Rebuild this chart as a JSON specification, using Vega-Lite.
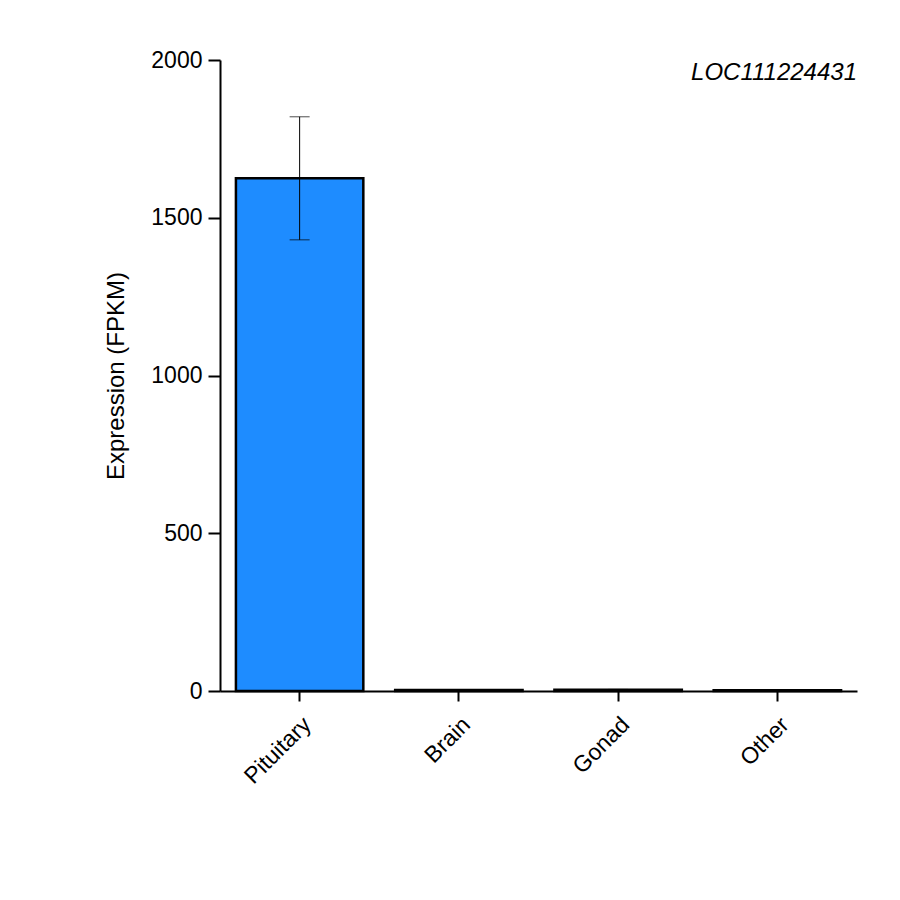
{
"$schema":"https://vega.github.io/schema/vega-lite/v6.json",
"width":637,"height":631,
"autosize":{"type":"none"},
"padding":{"left":220,"top":60,"right":43,"bottom":209},
"background":"white",
"config":{"view":{"stroke":null},"font":"Liberation Sans",
"axis":{"labelFontSize":23,"labelColor":"black","titleFontSize":24,"titleFontWeight":"normal","titleColor":"black","domainColor":"black","domainWidth":2,"tickColor":"black","tickWidth":2,"grid":false,"labelFont":"Liberation Sans","titleFont":"Liberation Sans"}},
"title":{"text":"LOC111224431","anchor":"end","orient":"top","offset":-36,"fontSize":24,"fontWeight":"normal","fontStyle":"italic","font":"Liberation Sans","color":"black"},
"data":{"values":[
{"tissue":"Pituitary","mean":1625,"lo":1430,"hi":1820},
{"tissue":"Brain","mean":3,"lo":2,"hi":4},
{"tissue":"Gonad","mean":4,"lo":3,"hi":5},
{"tissue":"Other","mean":2,"lo":1,"hi":3}
]},
"layer":[
{"mark":{"type":"bar","color":"#1e8cff","stroke":"black","strokeWidth":2.5},
"encoding":{
"x":{"field":"tissue","type":"nominal","sort":null,
"scale":{"paddingInner":0.2,"paddingOuter":0.1},
"axis":{"title":null,"labelAngle":-45,"labelAlign":"right","labelBaseline":"top","tickSize":10,"labelPadding":12}},
"y":{"field":"mean","type":"quantitative","scale":{"domain":[0,2000]},
"axis":{"title":"Expression (FPKM)","titlePadding":22,"values":[0,500,1000,1500,2000],"format":"d","tickSize":12,"labelPadding":6,"offset":0}}}},
{"mark":{"type":"errorbar","ticks":{"size":20,"color":"black","strokeWidth":2.5},"color":"black","strokeWidth":2.5},
"encoding":{
"x":{"field":"tissue","type":"nominal","sort":null},
"y":{"field":"lo","type":"quantitative","title":"Expression (FPKM)"},"y2":{"field":"hi"}}}
]
}
